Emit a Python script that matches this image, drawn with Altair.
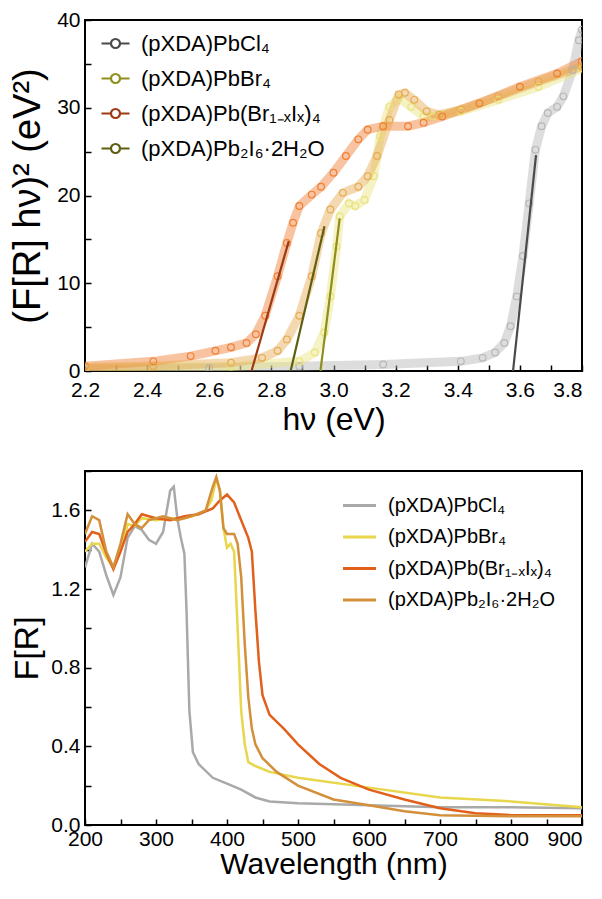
import altair as alt
import pandas as pd

FONT = "Liberation Sans"

# ---------------- Top panel: Tauc plot ----------------
names = ["(pXDA)PbCl₄", "(pXDA)PbBr₄", "(pXDA)Pb(Br₁₋ₓIₓ)₄", "(pXDA)Pb₂I₆·2H₂O"]

cl_ev = [2.2, 2.6, 2.89, 3.16, 3.41, 3.48, 3.52, 3.55, 3.57, 3.59, 3.61, 3.63, 3.65, 3.67, 3.69, 3.72, 3.74, 3.77, 3.79, 3.8]
cl_val = [0.2, 0.35, 0.55, 0.75, 1.1, 1.5, 2.1, 3.2, 5.1, 8.5, 13.1, 19.1, 25.2, 27.9, 29.4, 30.1, 31.3, 34.3, 37.7, 38.9]

br_ev = [2.2, 2.67, 2.89, 2.94, 2.97, 2.99, 3.01, 3.02, 3.05, 3.07, 3.10, 3.13, 3.15, 3.18, 3.21, 3.25, 3.29, 3.32, 3.41, 3.53, 3.66, 3.8]
br_val = [0.3, 0.5, 1.1, 2.1, 4.4, 8.5, 14.2, 17.6, 19.1, 18.8, 19.5, 22.2, 26.7, 30.1, 31.1, 30.1, 29.0, 29.0, 29.6, 30.9, 32.4, 34.5]

bri_ev = [2.2, 2.42, 2.54, 2.62, 2.67, 2.72, 2.75, 2.78, 2.82, 2.85, 2.87, 2.89, 2.93, 2.96, 3.0, 3.04, 3.08, 3.11, 3.16, 3.24, 3.29, 3.35, 3.47, 3.60, 3.72, 3.8]
bri_val = [0.55, 1.1, 1.7, 2.3, 2.7, 3.2, 4.2, 6.3, 10.8, 14.6, 16.9, 18.8, 20.1, 21.0, 22.6, 24.5, 26.4, 27.5, 27.9, 27.9, 28.3, 29.0, 30.5, 32.4, 33.9, 35.3]

pi_ev = [2.2, 2.42, 2.67, 2.77, 2.82, 2.85, 2.89, 2.93, 2.96, 2.99, 3.03, 3.08, 3.11, 3.14, 3.18, 3.21, 3.23, 3.26, 3.30, 3.34, 3.41, 3.53, 3.66, 3.8]
pi_val = [0.4, 0.57, 0.95, 1.5, 2.3, 3.6, 6.3, 10.8, 15.7, 18.4, 20.3, 21.0, 22.2, 24.5, 28.6, 31.5, 31.7, 30.9, 29.6, 29.2, 29.8, 31.3, 33.0, 34.7]

# linear fits (start at zero crossing, end on the rising edge)
fit_x0 = [3.578, 2.958, 2.736, 2.862]
fit_x1 = [3.652, 3.020, 2.856, 2.971]
fit_y1 = [24.6, 17.4, 14.8, 16.5]

data_colors = ["#b4b4b4", "#e9e27a", "#ef7a2c", "#e6a94e"]
fit_colors = ["#4a4a4a", "#8f8f1e", "#9c3a14", "#5f5f12"]

rows = []
for n, xs, ys in zip(names, [cl_ev, br_ev, bri_ev, pi_ev], [cl_val, br_val, bri_val, pi_val]):
    for a, b in zip(xs, ys):
        rows.append({"series": n, "ev": a, "val": b})
tauc = pd.DataFrame(rows)

frows = []
for n, a0, a1, b1 in zip(names, fit_x0, fit_x1, fit_y1):
    frows.append({"series": n, "ev": a0, "val": 0.0})
    frows.append({"series": n, "ev": a1, "val": b1})
fits = pd.DataFrame(frows)

xs_top = alt.Scale(domain=[2.2, 3.8], nice=False, zero=False)
ys_top = alt.Scale(domain=[0, 40], nice=False)

data_color = alt.Color("series:N", scale=alt.Scale(domain=names, range=data_colors), legend=None)

tick_axis = dict(labels=False, ticks=True, tickSize=6, tickWidth=1.5, tickColor="black",
                 domain=False, grid=False, title=None, offset=-6)

band = alt.Chart(tauc).mark_line(strokeWidth=9, opacity=0.45, clip=True).encode(
    x=alt.X("ev:Q", scale=xs_top, axis=alt.Axis(orient="bottom", values=[round(2.2 + 0.1 * i, 1) for i in range(17)], **tick_axis)),
    y=alt.Y("val:Q", scale=ys_top, axis=alt.Axis(orient="left", values=[5 * i for i in range(9)], **tick_axis)),
    color=data_color,
    detail="series:N",
)

circles = alt.Chart(tauc).mark_point(shape="circle", filled=False, size=45, strokeWidth=1.2, opacity=0.9, clip=True).encode(
    x=alt.X("ev:Q", scale=xs_top, axis=alt.Axis(orient="bottom", title="hν (eV)", values=[2.2, 2.4, 2.6, 2.8, 3.0, 3.2, 3.4, 3.6, 3.8],
                                                 format=".1f", ticks=False, domain=False, grid=False, labelFlush=False,
                                                 labelAlign={"condition": {"test": "datum.value >= 3.79", "value": "right"}, "value": "center"},
                                                 labelPadding=8, titlePadding=4, titleFontSize=32)),
    y=alt.Y("val:Q", scale=ys_top, axis=alt.Axis(orient="left", title="(F[R] hν)² (eV²)", values=[0, 10, 20, 30, 40],
                                                 ticks=False, domain=False, grid=False, labelFlush=False,
                                                 labelPadding=5, titlePadding=9, titleFontSize=38)),
    color=data_color,
)

legend_symbol = "M-1.4,0H-0.45 M0.45,0H1.4 M0.45,0A0.45,0.45 0 1,1 -0.45,0A0.45,0.45 0 1,1 0.45,0"

fitlines = alt.Chart(fits).mark_line(strokeWidth=2.2, clip=True).encode(
    x=alt.X("ev:Q", scale=xs_top, axis=None),
    y=alt.Y("val:Q", scale=ys_top, axis=None),
    color=alt.Color("series:N", scale=alt.Scale(domain=names, range=fit_colors),
                    legend=alt.Legend(title=None, orient="none", legendX=19, legendY=12,
                                      symbolType=legend_symbol, symbolSize=400, symbolStrokeWidth=2.2,
                                      symbolFillColor="white", labelFontSize=22, labelFont=FONT,
                                      labelLimit=0, rowPadding=12, labelOffset=14, padding=0)),
    detail="series:N",
)

top = alt.layer(band, circles, fitlines).resolve_scale(color="independent").resolve_axis(x="independent", y="independent").properties(width=497, height=351)

# ---------------- Bottom panel: F[R] spectra ----------------
cl_nm = [200, 210, 220, 230, 240, 250, 260, 270, 280, 290, 300, 310, 320, 325, 330, 335, 340, 343, 347, 352, 360, 380, 400, 420, 440, 460, 500, 600, 700, 800, 900]
cl_fr = [1.31, 1.43, 1.39, 1.27, 1.17, 1.26, 1.46, 1.52, 1.50, 1.45, 1.43, 1.49, 1.70, 1.72, 1.56, 1.46, 1.38, 1.09, 0.58, 0.37, 0.31, 0.24, 0.21, 0.18, 0.14, 0.12, 0.11, 0.10, 0.09, 0.09, 0.085]

br_nm = [200, 210, 220, 230, 240, 250, 260, 270, 280, 300, 320, 340, 360, 370, 378, 385, 390, 395, 400, 405, 410, 415, 420, 425, 430, 440, 460, 500, 600, 700, 800, 900]
br_fr = [1.39, 1.43, 1.43, 1.36, 1.31, 1.39, 1.53, 1.52, 1.56, 1.55, 1.56, 1.56, 1.58, 1.60, 1.65, 1.76, 1.70, 1.51, 1.41, 1.43, 1.39, 1.00, 0.58, 0.41, 0.32, 0.30, 0.27, 0.24, 0.19, 0.14, 0.12, 0.09]

bri_nm = [200, 210, 220, 230, 240, 250, 260, 270, 280, 300, 320, 340, 360, 380, 390, 400, 410, 420, 430, 435, 440, 445, 450, 460, 480, 500, 530, 560, 600, 650, 700, 750, 800, 900]
bri_fr = [1.44, 1.49, 1.48, 1.38, 1.30, 1.39, 1.49, 1.53, 1.58, 1.56, 1.55, 1.57, 1.58, 1.61, 1.65, 1.68, 1.64, 1.55, 1.46, 1.39, 1.09, 0.83, 0.66, 0.56, 0.49, 0.41, 0.31, 0.24, 0.18, 0.13, 0.085, 0.06, 0.05, 0.05]

pi_nm = [200, 210, 220, 230, 240, 250, 260, 270, 280, 290, 310, 330, 350, 370, 380, 385, 390, 395, 400, 410, 415, 420, 425, 430, 435, 440, 450, 470, 500, 550, 600, 650, 700, 800, 900]
pi_fr = [1.48, 1.57, 1.55, 1.39, 1.31, 1.43, 1.58, 1.53, 1.51, 1.55, 1.57, 1.55, 1.57, 1.60, 1.72, 1.77, 1.70, 1.51, 1.48, 1.48, 1.43, 1.26, 0.92, 0.65, 0.49, 0.41, 0.34, 0.27, 0.20, 0.13, 0.10, 0.07, 0.05, 0.045, 0.045]

spec_colors = ["#a9a9a9", "#e8d64c", "#e0601c", "#d38f3a"]

srows = []
for i, (n, xs, ys) in enumerate(zip(names, [cl_nm, br_nm, bri_nm, pi_nm], [cl_fr, br_fr, bri_fr, pi_fr])):
    for a, b in zip(xs, ys):
        srows.append({"series": n, "order": i, "nm": a, "fr": b})
spec = pd.DataFrame(srows)

xs_bot = alt.Scale(domain=[200, 900], nice=False, zero=False)
ys_bot = alt.Scale(domain=[0, 1.8], nice=False)

spec_lines = alt.Chart(spec).mark_line(strokeWidth=2.5, clip=True).encode(
    x=alt.X("nm:Q", scale=xs_bot, axis=alt.Axis(orient="bottom", title="Wavelength (nm)", values=[200, 300, 400, 500, 600, 700, 800, 900],
                                                  ticks=False, domain=False, grid=False, labelFlush=False,
                                                  labelAlign={"condition": {"test": "datum.value >= 899", "value": "right"}, "value": "center"},
                                                  labelPadding=3, titlePadding=0, titleFontSize=30)),
    y=alt.Y("fr:Q", scale=ys_bot, axis=alt.Axis(orient="left", title="F[R]", values=[0, 0.4, 0.8, 1.2, 1.6], format=".1f",
                                                ticks=False, domain=False, grid=False, labelFlush=False,
                                                labelPadding=5, titlePadding=6, titleFontSize=34)),
    color=alt.Color("series:N", scale=alt.Scale(domain=names, range=spec_colors),
                    legend=alt.Legend(title=None, orient="none", legendX=262, legendY=22,
                                      symbolType="M-1.5,0H1.5", symbolSize=484, symbolStrokeWidth=3,
                                      labelFontSize=20, labelFont=FONT, labelLimit=0,
                                      rowPadding=8.5, labelOffset=16, padding=0)),
    order="order:Q",
)

spec_ticks = alt.Chart(spec).mark_line(opacity=0).encode(
    x=alt.X("nm:Q", scale=xs_bot, axis=alt.Axis(orient="bottom", values=[200 + 50 * i for i in range(15)], **tick_axis)),
    y=alt.Y("fr:Q", scale=ys_bot, axis=alt.Axis(orient="left", values=[round(0.2 * i, 1) for i in range(10)], **tick_axis)),
    detail="series:N",
)

bottom = alt.layer(spec_ticks, spec_lines).resolve_axis(x="independent", y="independent").properties(width=497, height=354)

chart = alt.vconcat(top, bottom, spacing=33, padding={"left": 0, "right": 0, "top": 0, "bottom": 0}).resolve_scale(color="independent").configure_view(
    stroke="black", strokeWidth=2
).configure_axis(
    labelFont=FONT, titleFont=FONT, labelFontSize=21, titleFontSize=32,
    labelColor="black", titleColor="black", titleFontWeight="normal",
).configure_legend(labelColor="black")

chart.save("out.html", embed_options={"renderer": "svg", "actions": False})
